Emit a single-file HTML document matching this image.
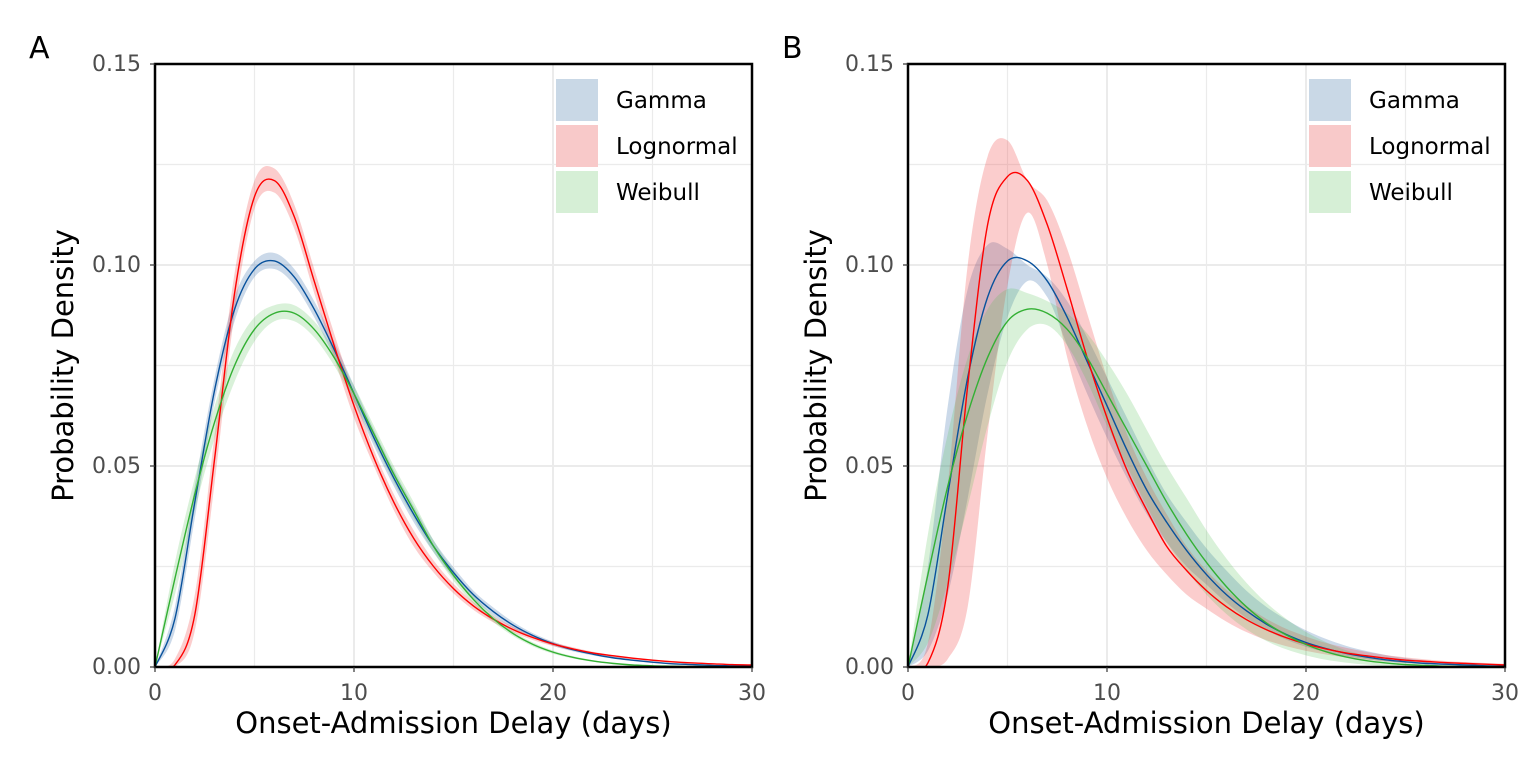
<!DOCTYPE html>
<html><head><meta charset="utf-8">
<style>
html,body{margin:0;padding:0;background:#fff;}
svg{display:block;font-family:"DejaVu Sans","Liberation Sans",sans-serif;}
</style></head>
<body>
<svg id="chart" width="1536" height="768" viewBox="0 0 1536 768"></svg>
<script>
const days = [0,1,2,3,4,5,6,7,8,9,10,11,12,13,14,15,16,17,18,19,20,21,22,23,24,25,26,27,28,29,30];
const yTicks = [0, 0.05, 0.10, 0.15];
const yTickLabels = ["0.00","0.05","0.10","0.15"];
const xTicks = [0, 10, 20, 30];
const xTickLabels = ["0","10","20","30"];
const seriesNames = ["Gamma","Lognormal","Weibull"];

// Panel A
const gammaA = [0,0.012,0.041,0.069,0.089,0.099,0.101,0.097,0.089,0.079,0.068,0.057,0.047,0.038,0.030,0.0235,0.018,0.0138,0.0104,0.0078,0.0058,0.0043,0.0032,0.0023,0.0017,0.0012,0.0008,0.0006,0.0004,0.0003,0.0002];
const gammaALo = [0,0.009,0.037,0.066,0.086,0.097,0.099,0.095,0.087,0.077,0.066,0.055,0.045,0.036,0.0285,0.0222,0.017,0.0128,0.0096,0.0072,0.0053,0.0039,0.0029,0.0021,0.0015,0.001,0.0007,0.0005,0.0003,0.0002,0.0001];
const gammaAHi = [0,0.015,0.045,0.072,0.092,0.101,0.103,0.099,0.091,0.081,0.070,0.059,0.049,0.040,0.0315,0.0248,0.019,0.0148,0.0112,0.0084,0.0063,0.0047,0.0035,0.0026,0.0019,0.0014,0.001,0.0007,0.0005,0.0004,0.0003];
const lognA = [0,0.0005,0.013,0.052,0.093,0.117,0.121,0.112,0.096,0.080,0.065,0.052,0.041,0.032,0.025,0.0195,0.0152,0.0119,0.0093,0.0073,0.0057,0.0045,0.0035,0.0028,0.0022,0.0017,0.0013,0.001,0.0008,0.0006,0.0005];
const lognALo = [0,0,0.009,0.046,0.088,0.114,0.118,0.109,0.093,0.077,0.062,0.05,0.039,0.030,0.0235,0.0183,0.0142,0.0111,0.0086,0.0067,0.0052,0.0041,0.0032,0.0025,0.0019,0.0015,0.0011,0.0009,0.0007,0.0005,0.0004];
const lognAHi = [0,0.002,0.018,0.058,0.098,0.121,0.124,0.115,0.099,0.083,0.068,0.054,0.043,0.034,0.0265,0.0207,0.0162,0.0127,0.01,0.0079,0.0062,0.0049,0.0038,0.003,0.0024,0.0019,0.0015,0.0012,0.0009,0.0007,0.0006];
const weibA = [0,0.022,0.043,0.061,0.075,0.084,0.088,0.088,0.084,0.077,0.068,0.058,0.048,0.039,0.030,0.0228,0.0168,0.012,0.0083,0.0056,0.0037,0.0024,0.0015,0.0009,0.0005,0.0003,0.0002,0.0001,0.0001,0,0];
const weibALo = [0,0.018,0.039,0.057,0.071,0.081,0.086,0.086,0.082,0.075,0.066,0.056,0.046,0.037,0.0285,0.0215,0.0158,0.0112,0.0077,0.0051,0.0033,0.0021,0.0013,0.0007,0.0004,0.0002,0.0001,0,0,0,0];
const weibAHi = [0,0.026,0.047,0.065,0.079,0.087,0.090,0.090,0.086,0.079,0.070,0.060,0.050,0.041,0.0315,0.0241,0.0178,0.0128,0.0089,0.0061,0.0041,0.0027,0.0017,0.001,0.0006,0.0004,0.0003,0.0002,0.0001,0.0001,0];

// Panel B
const gammaB = [0,0.013,0.043,0.072,0.092,0.101,0.101,0.096,0.087,0.076,0.065,0.054,0.044,0.036,0.029,0.023,0.018,0.014,0.0107,0.0081,0.0061,0.0046,0.0034,0.0025,0.0018,0.0013,0.0009,0.0007,0.0005,0.0003,0.0002];
const gammaBLo = [0,0.004,0.018,0.042,0.068,0.087,0.096,0.092,0.080,0.068,0.057,0.047,0.038,0.031,0.025,0.0205,0.016,0.0122,0.0092,0.0068,0.005,0.0037,0.0027,0.002,0.0014,0.001,0.0007,0.0005,0.0003,0.0002,0.0001];
const gammaBHi = [0,0.025,0.065,0.094,0.105,0.104,0.100,0.097,0.091,0.082,0.072,0.062,0.052,0.043,0.036,0.0295,0.024,0.019,0.015,0.0118,0.0091,0.007,0.0053,0.004,0.003,0.0022,0.0016,0.0012,0.0009,0.0006,0.0004];
const lognB = [0,0.001,0.02,0.07,0.11,0.122,0.121,0.110,0.094,0.077,0.062,0.049,0.039,0.030,0.024,0.019,0.015,0.0118,0.0093,0.0073,0.0057,0.0045,0.0035,0.0028,0.0022,0.0017,0.0014,0.0011,0.0009,0.0007,0.0005];
const lognBLo = [0,0,0.002,0.015,0.058,0.095,0.113,0.100,0.077,0.060,0.047,0.037,0.029,0.023,0.018,0.0145,0.0113,0.0087,0.0067,0.0052,0.004,0.0031,0.0024,0.0018,0.0014,0.001,0.0008,0.0006,0.0004,0.0003,0.0002];
const lognBHi = [0,0.006,0.045,0.1,0.127,0.131,0.121,0.116,0.104,0.088,0.072,0.058,0.047,0.038,0.030,0.024,0.0192,0.0152,0.012,0.0095,0.0076,0.006,0.0048,0.0038,0.003,0.0024,0.0019,0.0015,0.0012,0.001,0.0008];
const weibB = [0,0.023,0.045,0.063,0.077,0.086,0.089,0.088,0.084,0.077,0.068,0.059,0.050,0.041,0.033,0.026,0.020,0.015,0.011,0.008,0.0056,0.0038,0.0025,0.0016,0.001,0.0006,0.0004,0.0002,0.0001,0.0001,0];
const weibBLo = [0,0.006,0.021,0.04,0.06,0.076,0.084,0.085,0.080,0.071,0.060,0.050,0.040,0.031,0.024,0.018,0.0132,0.0094,0.0065,0.0044,0.0029,0.0018,0.0011,0.0006,0.0003,0.0002,0.0001,0,0,0,0];
const weibBHi = [0,0.033,0.058,0.077,0.089,0.094,0.093,0.091,0.088,0.083,0.076,0.068,0.059,0.050,0.042,0.034,0.027,0.021,0.016,0.012,0.0087,0.0062,0.0042,0.0028,0.0018,0.0012,0.0008,0.0005,0.0003,0.0002,0.0001];

const NS = "http://www.w3.org/2000/svg";
const svg = document.getElementById("chart");
function mk(tag, attrs, parent){
  const e = document.createElementNS(NS, tag);
  for (const k in attrs) e.setAttribute(k, attrs[k]);
  (parent||svg).appendChild(e);
  return e;
}
const lineCols = ["#08519c","#ff0000","#33b033"];
const fillCols = ["rgba(70,120,175,0.28)","rgba(240,60,60,0.26)","rgba(80,190,80,0.22)"];
const swatchCols = ["#c9d8e6","#f8c9c9","#d6efd6"];

function smooth(pts){
  let d = "M" + pts[0][0].toFixed(2) + "," + pts[0][1].toFixed(2);
  for (let i=0;i<pts.length-1;i++){
    const p0=pts[Math.max(0,i-1)], p1=pts[i], p2=pts[i+1], p3=pts[Math.min(pts.length-1,i+2)];
    const c1=[p1[0]+(p2[0]-p0[0])/6, p1[1]+(p2[1]-p0[1])/6];
    const c2=[p2[0]-(p3[0]-p1[0])/6, p2[1]-(p3[1]-p1[1])/6];
    d += " C"+c1[0].toFixed(2)+","+c1[1].toFixed(2)+" "+c2[0].toFixed(2)+","+c2[1].toFixed(2)+" "+p2[0].toFixed(2)+","+p2[1].toFixed(2);
  }
  return d;
}

function panel(x0, letter, series){
  const L = x0, R = x0+597, T = 64, B = 667;
  const xs = v => L + v/30*(R-L);
  const ys = v => B - v/0.15*(B-T);
  const g = mk("g", {});
  
  
  const grid = mk("g", {}, g);
  
  
  for (let v=0; v<=0.15001; v+=0.025){
    mk("line",{x1:L,x2:R,y1:ys(v),y2:ys(v),stroke:"#ebebeb","stroke-width":(Math.round(v*1000)%50===0)?2:1.2}, grid);
  }
  for (let v=0; v<=30; v+=5){
    mk("line",{x1:xs(v),x2:xs(v),y1:T,y2:B,stroke:"#ebebeb","stroke-width":(v%10===0)?2:1.2}, grid);
  }
  series.forEach((s,i)=>{
    const up = days.map((d,k)=>[xs(d), ys(s.hi[k])]);
    const lo = days.map((d,k)=>[xs(d), ys(s.lo[k])]).reverse();
    const p = smooth(up) + " L" + smooth(lo).slice(1) + " Z";
    const band = mk("path",{d:p,fill:fillCols[i],stroke:"none"}, g);
    
    
  });
  series.forEach((s,i)=>{
    const pts = days.map((d,k)=>[xs(d), ys(s.mean[k])]);
    const ln = mk("path",{d:smooth(pts),fill:"none",stroke:lineCols[i],"stroke-width":1.4}, g);
    
    
  });
  mk("rect",{x:L-2,y:B+1,width:R-L+4,height:6,fill:"#fff"}, g);
  const fr = mk("rect",{x:L,y:T,width:R-L,height:B-T,fill:"none",stroke:"#000","stroke-width":2.5}, g);
  
  
  yTicks.forEach((v,i)=>{
    mk("line",{x1:L-5,x2:L,y1:ys(v),y2:ys(v),stroke:"#333","stroke-width":1.2}, g);
    const t = mk("text",{x:L-14,y:ys(v)+7,"text-anchor":"end","font-size":22,fill:"#4d4d4d"}, g);
    t.textContent = yTickLabels[i];
    
    
  });
  xTicks.forEach((v,i)=>{
    mk("line",{x1:xs(v),x2:xs(v),y1:B,y2:B+5,stroke:"#333","stroke-width":1.2}, g);
    const t = mk("text",{x:xs(v),y:B+33,"text-anchor":"middle","font-size":22,fill:"#4d4d4d"}, g);
    t.textContent = xTickLabels[i];
    
    
  });
  const xt = mk("text",{x:(L+R)/2,y:733,"text-anchor":"middle","font-size":29,fill:"#000"}, g);
  xt.textContent = "Onset-Admission Delay (days)";
  
  
  const yt = mk("text",{x:0,y:0,"text-anchor":"middle","font-size":29,fill:"#000",transform:"translate("+(L-82)+","+((T+B)/2)+") rotate(-90)"}, g);
  yt.textContent = "Probability Density";
  
  
  const pl = mk("text",{x:L-126,y:58,"font-size":30,fill:"#000"}, g);
  pl.textContent = letter;
  
  
  const lg = mk("g", {}, g);
  
  
  seriesNames.forEach((n,i)=>{
    const e = mk("g", {}, lg);
    
    
    mk("rect",{x:L+401,y:79+i*46,width:42,height:42,fill:swatchCols[i]}, e);
    const t = mk("text",{x:L+461,y:108+i*46,"font-size":23,fill:"#000"}, e);
    t.textContent = n;
  });
}

panel(155, "A", [
  {mean:gammaA, lo:gammaALo, hi:gammaAHi},
  {mean:lognA, lo:lognALo, hi:lognAHi},
  {mean:weibA, lo:weibALo, hi:weibAHi}
]);
panel(908, "B", [
  {mean:gammaB, lo:gammaBLo, hi:gammaBHi},
  {mean:lognB, lo:lognBLo, hi:lognBHi},
  {mean:weibB, lo:weibBLo, hi:weibBHi}
]);
</script>
</body></html>
